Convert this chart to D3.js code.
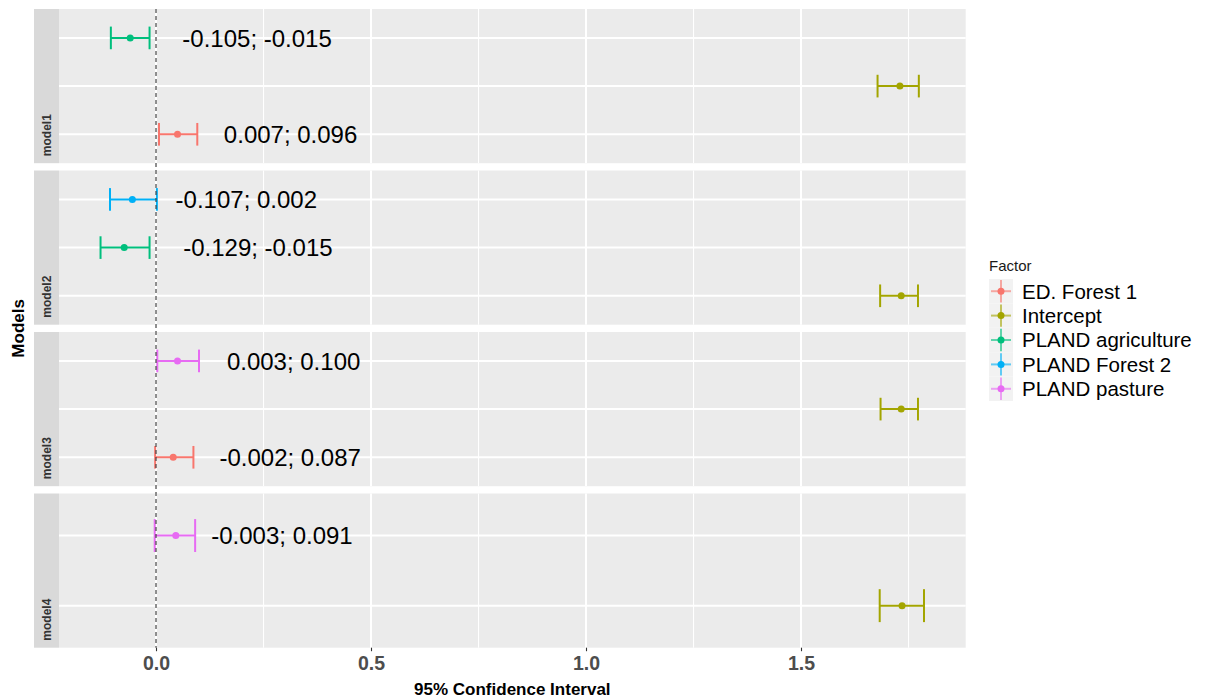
<!DOCTYPE html>
<html>
<head>
<meta charset="utf-8">
<script src="https://cdn.jsdelivr.net/npm/d3@7"></script>
<style>
  body { margin: 0; background: #fff; }
  svg { display: block; font-family: "Liberation Sans", Arial, sans-serif; }
</style>
</head>
<body>
<svg id="chart" width="1208" height="699"></svg>
<script>
// data
var models = ['model1', 'model2', 'model3', 'model4'];
var factors = ['ED. Forest 1', 'Intercept', 'PLAND agriculture', 'PLAND Forest 2', 'PLAND pasture'];
var colors = ['#F8766D', '#A3A500', '#00BF7D', '#00B0F6', '#E76BF3'];

var rowModel  = ['model1', 'model1', 'model1', 'model2', 'model2', 'model2', 'model3', 'model3', 'model3', 'model4', 'model4'];
var rowFactor = ['PLAND agriculture', 'Intercept', 'ED. Forest 1',
                 'PLAND Forest 2', 'PLAND agriculture', 'Intercept',
                 'PLAND pasture', 'Intercept', 'ED. Forest 1',
                 'PLAND pasture', 'Intercept'];
var lower     = [-0.105, 1.678, 0.007, -0.107, -0.129, 1.684, 0.003, 1.685, -0.002, -0.003, 1.683];
var upper     = [-0.015, 1.774, 0.096,  0.002, -0.015, 1.772, 0.100, 1.772,  0.087,  0.091, 1.786];
var estimate  = [-0.060, 1.730, 0.050, -0.055, -0.074, 1.733, 0.050, 1.733,  0.040,  0.046, 1.735];
var labelText = ['-0.105; -0.015', '', '0.007; 0.096',
                 '-0.107; 0.002', '-0.129; -0.015', '',
                 '0.003; 0.100', '', '-0.002; 0.087',
                 '-0.003; 0.091', ''];
var labelX    = [0.235, null, 0.313, 0.210, 0.237, null, 0.320, null, 0.312, 0.293, null];

var majorTicks = [0, 0.5, 1, 1.5];
var minorTicks = [0.25, 0.75, 1.25, 1.75];

var rows = rowModel.map(function(m, i) {
  return {model: m, factor: rowFactor[i], lo: lower[i], hi: upper[i], est: estimate[i],
          label: labelText[i], lx: labelX[i]};
});

var svg = d3.select('#chart');
var panelLeft = 59, panelRight = 965.7, plotTop = 9, plotBottom = 647.7, gap = 7.3, stripW = 25;
var panelH = (plotBottom - plotTop - gap * (models.length - 1)) / models.length;

var x = d3.scaleLinear().domain([-0.2256, 1.883]).range([panelLeft, panelRight]);
var color = d3.scaleOrdinal().domain(factors).range(colors);

models.forEach(function(m, k) {
  var y0 = plotTop + k * (panelH + gap);
  var mRows = rows.filter(function(r) { return r.model === m; });
  // ggplot order: alphabetical from bottom, so reverse for top-down
  var levels = factors.filter(function(f) { return mRows.some(function(r) { return r.factor === f; }); }).reverse();
  var y = d3.scalePoint().domain(levels).range([y0, y0 + panelH]).padding(0.6);

  var g = svg.append('g').attr('class', 'panel');
  g.append('rect').attr('x', panelLeft).attr('y', y0).attr('width', panelRight - panelLeft)
    .attr('height', panelH).attr('fill', '#EBEBEB');

  g.selectAll('line.minor').data(minorTicks).enter().append('line')
    .attr('x1', function(d) { return x(d); }).attr('x2', function(d) { return x(d); })
    .attr('y1', y0).attr('y2', y0 + panelH)
    .attr('stroke', '#fff').attr('stroke-width', 1.1);
  g.selectAll('line.major').data(majorTicks).enter().append('line')
    .attr('x1', function(d) { return x(d); }).attr('x2', function(d) { return x(d); })
    .attr('y1', y0).attr('y2', y0 + panelH)
    .attr('stroke', '#fff').attr('stroke-width', 2);
  g.selectAll('line.hgrid').data(levels).enter().append('line')
    .attr('x1', panelLeft).attr('x2', panelRight)
    .attr('y1', function(d) { return y(d); }).attr('y2', function(d) { return y(d); })
    .attr('stroke', '#fff').attr('stroke-width', 2);

  // strip on the left
  g.append('rect').attr('x', panelLeft - stripW).attr('y', y0).attr('width', stripW)
    .attr('height', panelH).attr('fill', '#D9D9D9');
  g.append('text')
    .attr('transform', 'translate(' + (panelLeft - stripW / 2 + 4.5) + ',' + (y0 + panelH - 7) + ') rotate(-90)')
    .attr('font-size', 12).attr('font-weight', 'bold').attr('fill', '#333')
    .text(m);

  var capH = y.step() * 0.47;
  var bars = g.selectAll('g.bar').data(mRows).enter().append('g')
    .attr('stroke', function(d) { return color(d.factor); })
    .attr('stroke-width', 2);
  bars.append('line')
    .attr('x1', function(d) { return x(d.lo); }).attr('x2', function(d) { return x(d.hi); })
    .attr('y1', function(d) { return y(d.factor); }).attr('y2', function(d) { return y(d.factor); });
  bars.append('line')
    .attr('x1', function(d) { return x(d.lo); }).attr('x2', function(d) { return x(d.lo); })
    .attr('y1', function(d) { return y(d.factor) - capH / 2; }).attr('y2', function(d) { return y(d.factor) + capH / 2; });
  bars.append('line')
    .attr('x1', function(d) { return x(d.hi); }).attr('x2', function(d) { return x(d.hi); })
    .attr('y1', function(d) { return y(d.factor) - capH / 2; }).attr('y2', function(d) { return y(d.factor) + capH / 2; });
  bars.append('circle')
    .attr('cx', function(d) { return x(d.est); }).attr('cy', function(d) { return y(d.factor); })
    .attr('r', 3.5).attr('stroke', 'none').attr('fill', function(d) { return color(d.factor); });

  g.selectAll('text.lab').data(mRows.filter(function(r) { return r.label; })).enter().append('text')
    .attr('x', function(d) { return x(d.lx); })
    .attr('y', function(d) { return y(d.factor) + 8.6; })
    .attr('text-anchor', 'middle').attr('font-size', 24).attr('fill', '#000')
    .text(function(d) { return d.label; });
});

// dashed reference line at zero, drawn across all panels
svg.append('line')
  .attr('x1', x(0)).attr('x2', x(0)).attr('y1', plotTop).attr('y2', plotBottom)
  .attr('stroke', '#444').attr('stroke-width', 1.2).attr('stroke-dasharray', '4,3');

// x axis
var xAxis = d3.axisBottom(x).tickValues(majorTicks).tickSize(3.5).tickPadding(5)
  .tickFormat(d3.format('.1f'));
var ax = svg.append('g').attr('transform', 'translate(0,' + plotBottom + ')').call(xAxis);
ax.select('.domain').remove();
ax.selectAll('.tick line').attr('stroke', '#333').attr('stroke-width', 1.1);
ax.selectAll('.tick text').attr('fill', '#4D4D4D').attr('font-size', 19.5).attr('font-weight', 'bold')
  .attr('font-family', '"Liberation Sans", Arial, sans-serif');

svg.append('text').attr('x', (panelLeft + panelRight) / 2).attr('y', 694.5)
  .attr('text-anchor', 'middle').attr('font-size', 17).attr('font-weight', 'bold')
  .text('95% Confidence Interval');

svg.append('text')
  .attr('transform', 'translate(24,' + ((plotTop + plotBottom) / 2) + ') rotate(-90)')
  .attr('text-anchor', 'middle').attr('font-size', 17).attr('font-weight', 'bold')
  .text('Models');

// legend
var legX = 989, legY = 279, keyW = 24, keyH = 24.4;
var leg = svg.append('g');
leg.append('text').attr('x', legX).attr('y', 271).attr('font-size', 15).attr('fill', '#1a1a1a').text('Factor');
var items = leg.selectAll('g.item').data(factors).enter().append('g')
  .attr('transform', function(d, i) { return 'translate(' + legX + ',' + (legY + i * keyH) + ')'; });
items.append('rect').attr('width', keyW).attr('height', keyH).attr('fill', '#F2F2F2');
items.append('line').attr('x1', keyW / 2).attr('x2', keyW / 2).attr('y1', 1).attr('y2', keyH - 1)
  .attr('stroke', function(d) { return color(d); }).attr('stroke-width', 2).attr('opacity', 0.6);
items.append('line').attr('x1', 2).attr('x2', keyW - 2).attr('y1', keyH / 2).attr('y2', keyH / 2)
  .attr('stroke', function(d) { return color(d); }).attr('stroke-width', 2).attr('opacity', 0.6);
items.append('circle').attr('cx', keyW / 2).attr('cy', keyH / 2).attr('r', 3.5)
  .attr('fill', function(d) { return color(d); });
items.append('text').attr('x', 33).attr('y', keyH / 2 + 7.3).attr('font-size', 20.5).attr('fill', '#000')
  .text(function(d) { return d; });
</script>
</body>
</html>
